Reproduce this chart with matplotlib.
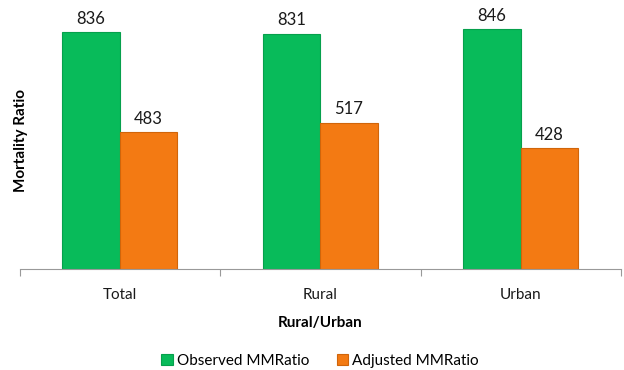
import numpy as np
import matplotlib.pyplot as plt

# Data
categories = ["Total", "Rural", "Urban"]
observed = [836, 831, 846]
adjusted = [483, 517, 428]
series_names = ["Observed MMRatio", "Adjusted MMRatio"]

plt.rcParams['font.family'] = ['Lato', 'DejaVu Sans']

fig = plt.figure(figsize=(6.24, 3.70), dpi=100)
# axes spans x 19.5..621, y 14..269 (pixels)
ax = fig.add_axes([19.5/624, 1 - 269/370, 601.5/624, 255/370])

x = np.arange(len(categories))
w = 0.287
b1 = ax.bar(x - w/2, observed, w, color="#08BB5A", edgecolor="#06A04C", linewidth=0.8,
            label=series_names[0])
b2 = ax.bar(x + w/2, adjusted, w, color="#F37A13", edgecolor="#D0650A", linewidth=0.8,
            label=series_names[1])

for bars, vals in [(b1, observed), (b2, adjusted)]:
    for r, v in zip(bars, vals):
        ax.text(r.get_x() + r.get_width()/2, v + 18, str(v), ha="center", va="bottom",
                fontsize=12, color="#1a1a1a")

ax.set_xlim(-0.5, 2.5)
ax.set_ylim(0, 900)
ax.set_yticks([])
for s in ["top", "right", "left"]:
    ax.spines[s].set_visible(False)
ax.spines["bottom"].set_color("#999999")
ax.set_xticks([-0.5, 0.5, 1.5, 2.5], minor=False)
ax.set_xticklabels([])
ax.tick_params(axis="x", length=5, color="#999999")
ax.set_xticks(x, minor=True)
ax.set_xticklabels(categories, minor=True, fontsize=11, color="#1a1a1a")
ax.tick_params(axis="x", which="minor", length=0, pad=14)

fig.text(320/624, 1 - 323/370, "Rural/Urban", ha="center", va="center",
         fontsize=11, fontweight="bold")
fig.text(21/624, 1 - 141/370, "Mortality Ratio", ha="center", va="center",
         rotation=90, fontsize=11, fontweight="bold")

fig.legend(loc="center", bbox_to_anchor=(320/624, 1 - 361/370), ncol=2, frameon=False,
           fontsize=11, handlelength=0.75, handleheight=0.75, handletextpad=0.25,
           columnspacing=1.8)

fig.savefig("out.png", dpi=100)
